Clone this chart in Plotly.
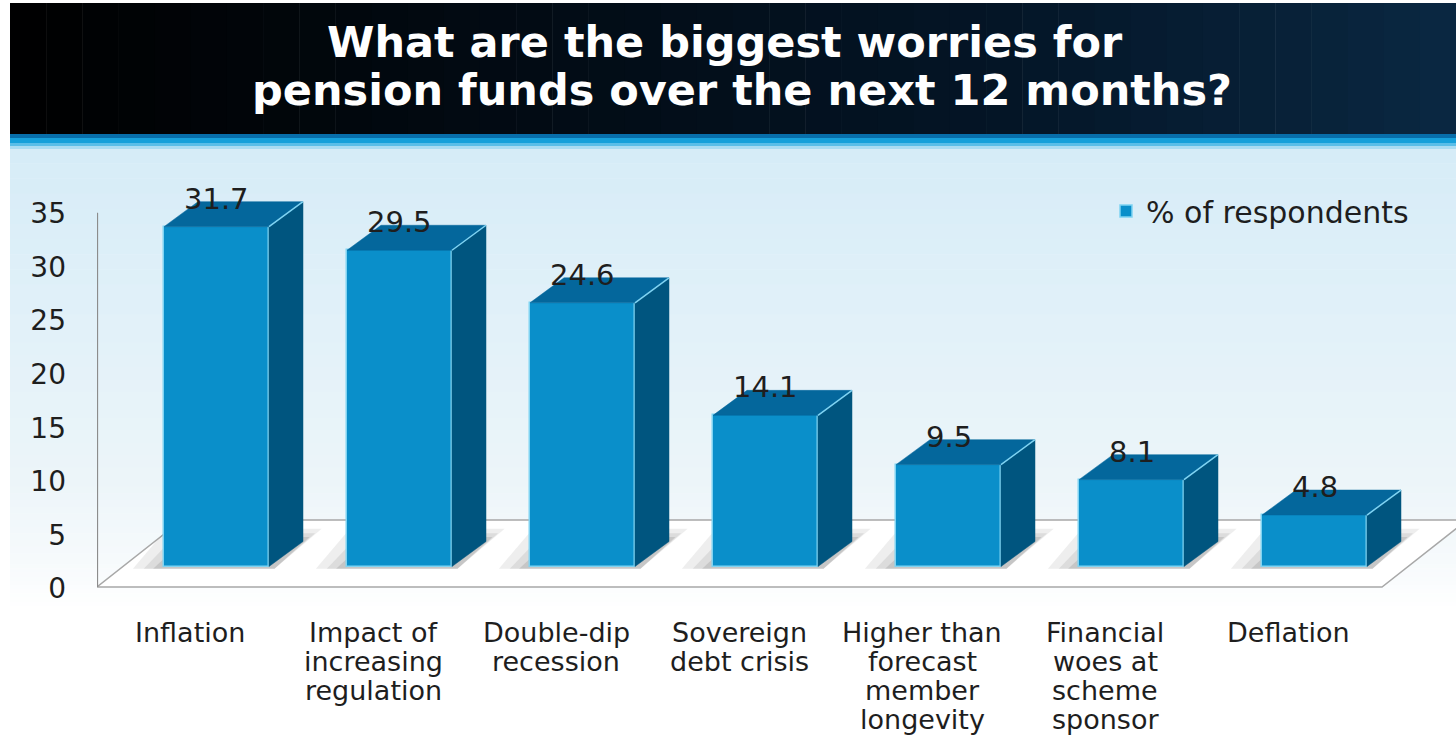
import plotly.graph_objects as go

# ---------------- data ----------------
categories = [
    "Inflation",
    "Impact of<br>increasing<br>regulation",
    "Double-dip<br>recession",
    "Sovereign<br>debt crisis",
    "Higher than<br>forecast<br>member<br>longevity",
    "Financial<br>woes at<br>scheme<br>sponsor",
    "Deflation",
]
values = [31.7, 29.5, 24.6, 14.1, 9.5, 8.1, 4.8]
y_ticks = [0, 5, 10, 15, 20, 25, 30, 35]
series_name = "% of respondents"
title_lines = ["What are the biggest worries for", "pension funds over the next 12 months?"]

# ---------------- geometry / style ----------------
W, H = 1456, 743
L, R, T, B = 97, 0, 150, 143
PW, PH = W - L - R, H - T - B
CAT_PX = 183.0          # pixels per category
X0_PX = 216.5           # pixel of first category centre
Y_PX = 10.72            # pixels per unit
BASE_PX = 566.5         # pixel of value 0

xmin = -(X0_PX - L) / CAT_PX
xmax = (W - R - X0_PX) / CAT_PX
ymax = (BASE_PX - T) / Y_PX
ymin = -(T + PH - BASE_PX) / Y_PX

BW = 105 / CAT_PX       # bar width (category units)
DX = 34 / CAT_PX        # depth offset x
DY = 25 / Y_PX          # depth offset y

FRONT = "#0a8fca"
SIDE = "#00557f"
TOP = "#04679c"
EDGE = "#7fd3f2"
TXT = "#1e1e1e"
FONT = "DejaVu Sans"


def pxx(px):
    return (px - L) / PW


def pxy(py):
    return (T + PH - py) / PH


def lerp(c1, c2, t):
    return tuple(int(round(a + (b - a) * t)) for a, b in zip(c1, c2))


def rgb(c):
    return "rgb(%d,%d,%d)" % c


shapes = []

# light background gradient (vertical)
stops = [(148, (214, 236, 247)), (330, (226, 241, 249)), (480, (236, 245, 249)),
         (560, (246, 250, 252)), (610, (255, 255, 255))]
for s in range(len(stops) - 1):
    (p0, c0), (p1, c1) = stops[s], stops[s + 1]
    n = 12
    for k in range(n):
        a = p0 + (p1 - p0) * k / n
        b = p0 + (p1 - p0) * (k + 1) / n
        col = lerp(c0, c1, (k + 0.5) / n)
        shapes.append(dict(type="rect", xref="paper", yref="paper", layer="below",
                           x0=pxx(10), x1=pxx(W), y0=pxy(b + 0.5), y1=pxy(a),
                           fillcolor=rgb(col), line=dict(width=0)))

# dark title banner (horizontal gradient)
nb = 40
for k in range(nb):
    a = 10 + (W - 10) * k / nb
    b = 10 + (W - 10) * (k + 1) / nb
    t = (k + 0.5) / nb
    col = lerp((0, 0, 0), (4, 22, 40), min(1, t * 1.4)) if t < 0.7 else lerp((4, 22, 40), (10, 40, 66), (t - 0.7) / 0.3)
    shapes.append(dict(type="rect", xref="paper", yref="paper", layer="below",
                       x0=pxx(a), x1=pxx(b + 0.5), y0=pxy(136), y1=pxy(3),
                       fillcolor=rgb(col), line=dict(width=0)))

# blue strip under banner
for (a, b, c) in [(134, 138, (8, 110, 170)), (138, 143, (22, 160, 218)),
                  (143, 146, (90, 190, 232)), (146, 149, (170, 220, 242))]:
    shapes.append(dict(type="rect", xref="paper", yref="paper", layer="below",
                       x0=pxx(10), x1=pxx(W), y0=pxy(b), y1=pxy(a),
                       fillcolor=rgb(c), line=dict(width=0)))

# floor (in data coordinates)
fy_front = -(587 - BASE_PX) / Y_PX
fy_back = (BASE_PX - 520) / Y_PX
fdx = 85 / CAT_PX
fx_l = xmin
fx_r = (1382 - X0_PX) / CAT_PX
shapes.append(dict(type="path", xref="x", yref="y", layer="below",
                   path="M %f,%f L %f,%f L %f,%f L %f,%f Z" % (
                       fx_l, fy_front, fx_r, fy_front, fx_r + fdx, fy_back, fx_l + fdx, fy_back),
                   fillcolor="white", line=dict(color="#a8a8a8", width=1.5)))

# soft shadows behind each bar
for i in range(len(values)):
    xl, xr = i - BW / 2, i + BW / 2
    for grow, op in [(1.0, 0.10), (0.65, 0.12), (0.35, 0.16)]:
        gx = 0.17 * grow
        gy = 1.2 * grow
        path = "M %f,%f L %f,%f L %f,%f L %f,%f Z" % (
            xl - gx, -0.2, xr + 0.03, -0.2,
            xr + DX + gx * 0.6, DY + gy, xl - gx + DX, DY + gy)
        shapes.append(dict(type="path", xref="x", yref="y", layer="below", path=path,
                           fillcolor="rgba(90,90,90,%.2f)" % op, line=dict(width=0)))

# left axis line
shapes.append(dict(type="line", xref="x", yref="y", layer="below",
                   x0=xmin + 0.002, x1=xmin + 0.002, y0=fy_front, y1=33.0,
                   line=dict(color="#8c8c8c", width=1.5)))

# ---------------- traces ----------------
xs = list(range(len(values)))
fig = go.Figure()

fig.add_trace(go.Bar(
    x=xs, y=values, width=BW, name=series_name,
    marker=dict(color=FRONT, line=dict(color=EDGE, width=1.5)),
    showlegend=True, hoverinfo="skip"))

side_x, side_y, top_x, top_y, edge_x, edge_y = [], [], [], [], [], []
for i, v in zip(xs, values):
    xl, xr = i - BW / 2, i + BW / 2
    side_x += [xr, xr + DX, xr + DX, xr, xr, None]
    side_y += [0, DY, v + DY, v, 0, None]
    top_x += [xl, xr, xr + DX, xl + DX, xl, None]
    top_y += [v, v, v + DY, v + DY, v, None]
    edge_x += [xr, xr + DX, None]
    edge_y += [v, v + DY, None]

fig.add_trace(go.Scatter(x=side_x, y=side_y, mode="lines", fill="toself",
                         fillcolor=SIDE, line=dict(color=SIDE, width=0.5),
                         showlegend=False, hoverinfo="skip"))
fig.add_trace(go.Scatter(x=top_x, y=top_y, mode="lines", fill="toself",
                         fillcolor=TOP, line=dict(color=TOP, width=0.5),
                         showlegend=False, hoverinfo="skip"))
fig.add_trace(go.Scatter(x=edge_x, y=edge_y, mode="lines",
                         line=dict(color=EDGE, width=1.5),
                         showlegend=False, hoverinfo="skip"))

# ---------------- annotations ----------------
annotations = []
# title
for line, cx, cy in zip(title_lines, [725, 742], [42, 90]):
    annotations.append(dict(text=line, xref="paper", yref="paper", x=pxx(cx), y=pxy(cy),
                            xanchor="center", yanchor="middle", showarrow=False,
                            font=dict(family=FONT, size=43, color="white", weight="bold")))
# value labels
for i, v in zip(xs, values):
    annotations.append(dict(text="%.1f" % v, x=i, y=v + DY, xref="x", yref="y",
                            xanchor="center", yanchor="middle", yshift=3, showarrow=False,
                            font=dict(family=FONT, size=29, color=TXT)))
# category labels (one annotation per text line for tight leading)
LAB_OFF = -26.5 / CAT_PX
for i, cat in zip(xs, categories):
    for k, ln in enumerate(cat.split("<br>")):
        annotations.append(dict(text=ln, x=i + LAB_OFF, y=0, xref="x", yref="paper",
                                xanchor="center", yanchor="middle",
                                yshift=-(32 + 29.3 * k), showarrow=False,
                                font=dict(family=FONT, size=27, color=TXT)))

fig.update_layout(
    width=W, height=H,
    margin=dict(l=L, r=R, t=T, b=B, pad=0),
    paper_bgcolor="white", plot_bgcolor="rgba(0,0,0,0)",
    shapes=shapes, annotations=annotations,
    showlegend=True,
    legend=dict(x=pxx(1106), y=pxy(211), xanchor="left", yanchor="middle",
                bgcolor="rgba(0,0,0,0)", borderwidth=0,
                font=dict(family=FONT, size=30, color=TXT)),
    xaxis=dict(range=[xmin, xmax], showgrid=False, zeroline=False, showline=False,
               showticklabels=False, ticks=""),
    yaxis=dict(range=[ymin, ymax], showgrid=False, zeroline=False, showline=False,
               tickvals=y_ticks, ticktext=[str(t) for t in y_ticks], ticks="",
               ticklabelstandoff=30, ticklabelshift=22,
               tickfont=dict(family=FONT, size=28, color=TXT)),
    bargap=0,
)

fig.write_html("out.html")
